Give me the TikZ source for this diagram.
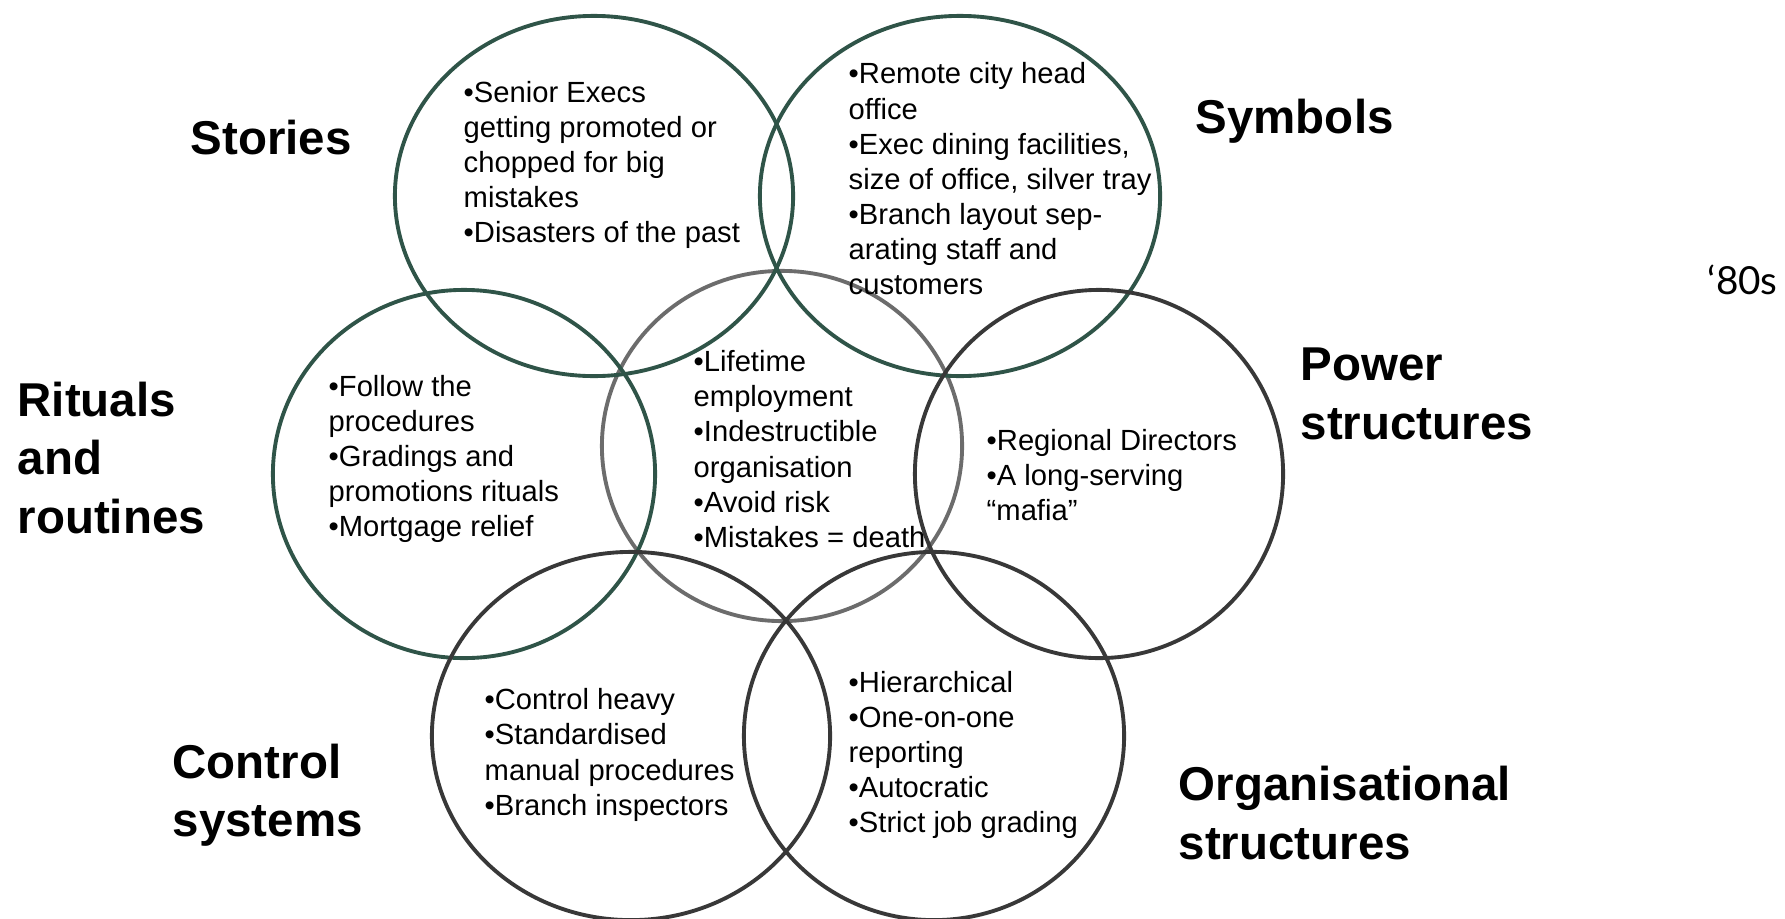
\documentclass[tikz,border=0pt]{standalone}
\usepackage{fontspec}
\setmainfont{Liberation Sans}
\newfontfamily\yearfont{Lato}
\usetikzlibrary{shapes.geometric}
\definecolor{ringGreen}{RGB}{47,84,72}
\definecolor{ringGrey}{RGB}{108,108,108}
\definecolor{ringDark}{RGB}{56,56,56}
\tikzset{
ring/.style = {ellipse, draw=#1, line width=1.1pt,
               inner sep=0pt, outer sep=0pt},
ring/.default = ringDark
}
\tikzset{
items/.style = {anchor=west, align=left, inner sep=0pt,
                font=\fontsize{8.3}{10}\selectfont},
heading/.style = {anchor=west, align=left, inner sep=0pt,
                  font=\fontsize{13.5}{16.6}\selectfont\bfseries}
}

\begin{document}
\begin{tikzpicture}[x=0.01cm, y=-0.01cm]
    \useasboundingbox (0,0) rectangle (1785,918);

    % the seven rings, centre one first
    \node[ring=ringGrey, minimum width=3.6cm, minimum height=3.5cm] (paradigmRing) at (782,446) {};
    \node[ring=ringGreen, minimum width=3.98cm, minimum height=3.6cm] (storiesRing) at (594,196) {};
    \node[ring=ringGreen, minimum width=4.0cm, minimum height=3.6cm] (symbolsRing) at (960,196) {};
    \node[ring=ringGreen, minimum width=3.82cm, minimum height=3.68cm] (ritualsRing) at (464,474) {};
    \node[ring, minimum width=3.68cm, minimum height=3.68cm] (powerRing) at (1099,474) {};
    \node[ring, minimum width=3.98cm, minimum height=3.68cm] (controlRing) at (631,736) {};
    \node[ring, minimum width=3.8cm, minimum height=3.68cm] (orgRing) at (934,736) {};

    % contents
    \node[items] (storiesText) at (463,165) {•Senior Execs\\getting promoted or\\chopped for big\\mistakes\\•Disasters of the past};
    \node[items] (symbolsText) at (848,179) {•Remote city head\\office\\•Exec dining facilities,\\size of office, silver tray\\•Branch layout sep-\\arating staff and\\customers};
    \node[items] (ritualsText) at (328,459) {•Follow the\\procedures\\•Gradings and\\promotions rituals\\•Mortgage relief};
    \node[items] (paradigmText) at (693,449) {•Lifetime\\employment\\•Indestructible\\organisation\\•Avoid risk\\•Mistakes = death};
    \node[items] (powerText) at (986,475) {•Regional Directors\\•A long-serving\\“mafia”};
    \node[items] (controlText) at (484,755) {•Control heavy\\•Standardised\\manual procedures\\•Branch inspectors};
    \node[items] (orgText) at (848,755) {•Hierarchical\\•One-on-one\\reporting\\•Autocratic\\•Strict job grading};

    % headings
    \node[heading] (storiesLabel) at (190,138) {Stories};
    \node[heading] (symbolsLabel) at (1195,121) {Symbols};
    \node[heading] (ritualsLabel) at (17,458) {Rituals\\and\\routines};
    \node[heading] (powerLabel) at (1300,394) {Power\\structures};
    \node[heading] (controlLabel) at (172,795) {Control\\systems};
    \node[heading] (orgLabel) at (1178,813) {Organisational\\structures};
    \node[anchor=west, inner sep=0pt, font=\yearfont\fontsize{11}{13}\selectfont] (yearLabel) at (1707,280) {‘80s};
\end{tikzpicture}
\end{document}
